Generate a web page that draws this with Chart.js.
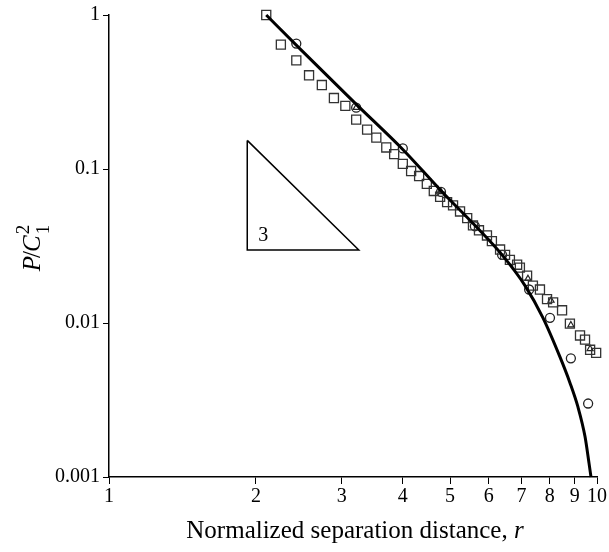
<!DOCTYPE html>
<html>
<head>
<meta charset="utf-8">
<script src="https://cdn.jsdelivr.net/npm/chart.js@4/dist/chart.umd.min.js"></script>
<style>
  html, body { margin: 0; padding: 0; background: #fff; }
  #wrap { width: 609px; height: 552px; }
</style>
</head>
<body>
<div id="wrap"><canvas id="grafico" width="609" height="552"></canvas></div>
<script>
// values (r, P/C1^2)
const squareR = [2.10, 2.25, 2.42, 2.57, 2.73, 2.89, 3.05, 3.21, 3.38, 3.53, 3.70, 3.84, 4.00, 4.16, 4.32, 4.48,
                 4.63, 4.77, 4.93, 5.07, 5.24, 5.42, 5.57, 5.73, 5.95, 6.09, 6.33, 6.48, 6.63, 6.86, 6.95,
                 7.19, 7.39, 7.64, 7.90, 8.13, 8.48, 8.80, 9.23, 9.45, 9.68, 9.96];
const squareP = [1.0, 0.642, 0.507, 0.406, 0.351, 0.289, 0.257, 0.209, 0.180, 0.160, 0.138, 0.125, 0.108, 0.097, 0.090, 0.080,
                 0.072, 0.066, 0.061, 0.058, 0.053, 0.048, 0.043, 0.040, 0.037, 0.034, 0.030, 0.0277, 0.0257, 0.0239, 0.0229,
                 0.0203, 0.0175, 0.0165, 0.0143, 0.0136, 0.0121, 0.0099, 0.0083, 0.0078, 0.0067, 0.0064];

const circleR = [2.42, 3.21, 4.00, 4.79, 5.62, 6.39, 7.26, 8.01, 8.84, 9.59];
const circleP = [0.652, 0.250, 0.136, 0.071, 0.0425, 0.0277, 0.0165, 0.0108, 0.0059, 0.0030];

const triR = [3.21, 4.79, 7.22, 8.05, 8.84, 9.68];
const triP = [0.250, 0.071, 0.0194, 0.0140, 0.0097, 0.0068];

const curveR = [2.10, 2.46, 3.22, 4.00, 4.79, 5.62, 6.39, 7.12, 7.75, 8.40, 8.80, 9.14, 9.45, 9.63, 9.72];
const curveP = [1.0, 0.605, 0.261, 0.134, 0.0723, 0.0431, 0.0277, 0.0175, 0.0108, 0.0060, 0.0041, 0.00285, 0.00183, 0.00123, 0.001];

// slope guide triangle (vertices) and its label
const slopeR = [1.92, 1.92, 3.25, 1.92];
const slopeP = [0.1534, 0.0298, 0.0298, 0.1534];
const slopeLabelR = 2.07;
const slopeLabelP = 0.0385;
const slopeLabel = '3';

const xTicks = [1, 2, 3, 4, 5, 6, 7, 8, 9, 10];
const yTicks = [0.001, 0.01, 0.1, 1];

function puntos(xs, ys) {
    return xs.map((x, i) => ({ x: x, y: ys[i] }));
}

const serif = '"Liberation Serif", "DejaVu Serif", serif';

const titulosPlugin = {
    id: 'titulos',
    afterDraw(chart) {
        const ctx = chart.ctx;
        const xs = chart.scales.x;
        const ys = chart.scales.y;
        ctx.save();
        ctx.fillStyle = '#000';
        ctx.textBaseline = 'alphabetic';

        // slope label
        ctx.font = '20px ' + serif;
        ctx.textAlign = 'center';
        ctx.fillText(slopeLabel, xs.getPixelForValue(slopeLabelR), ys.getPixelForValue(slopeLabelP) + 8);

        // x axis title with italic r
        const parte1 = 'Normalized separation distance, ';
        const parte2 = 'r';
        ctx.font = '25px ' + serif;
        const w1 = ctx.measureText(parte1).width;
        ctx.font = 'italic 25px ' + serif;
        const w2 = ctx.measureText(parte2).width;
        let x0 = 355 - (w1 + w2) / 2;
        ctx.textAlign = 'left';
        ctx.font = '25px ' + serif;
        ctx.fillText(parte1, x0, 538);
        ctx.font = 'italic 25px ' + serif;
        ctx.fillText(parte2, x0 + w1, 538);

        // y axis title P/C_1^2
        ctx.translate(40, 247);
        ctx.rotate(-Math.PI / 2);
        ctx.font = 'italic 25px ' + serif;
        const wP = ctx.measureText('P').width;
        ctx.font = '25px ' + serif;
        const wS = ctx.measureText('/').width;
        ctx.font = 'italic 25px ' + serif;
        const wC = ctx.measureText('C').width;
        ctx.font = '19px ' + serif;
        const wN = ctx.measureText('2').width;
        let cx = -(wP + wS + wC + wN) / 2;
        ctx.font = 'italic 25px ' + serif;
        ctx.fillText('P', cx, 0);
        cx += wP - 2;
        ctx.font = '25px ' + serif;
        ctx.fillText('/', cx, 0);
        cx += wS - 1;
        ctx.font = 'italic 25px ' + serif;
        ctx.fillText('C', cx, 0);
        cx += wC + 1;
        ctx.font = '19px ' + serif;
        ctx.fillText('2', cx, -11);
        ctx.fillText('1', cx, 9);
        ctx.restore();
    }
};

new Chart(document.getElementById('grafico').getContext('2d'), {
    type: 'scatter',
    data: {
        datasets: [
            {
                label: 'curve',
                data: puntos(curveR, curveP),
                showLine: true,
                borderColor: '#000',
                borderWidth: 3,
                pointRadius: 0,
                cubicInterpolationMode: 'monotone',
                fill: false,
                clip: false
            },
            {
                label: 'slope',
                data: puntos(slopeR, slopeP),
                showLine: true,
                borderColor: '#000',
                borderWidth: 1.5,
                pointRadius: 0,
                tension: 0,
                fill: false
            },
            {
                label: 'squares',
                data: puntos(squareR, squareP),
                pointStyle: 'rect',
                pointRadius: 6.4,
                pointBorderWidth: 1.3,
                pointBorderColor: '#333',
                pointBackgroundColor: 'rgba(0,0,0,0)',
                clip: false
            },
            {
                label: 'circles',
                data: puntos(circleR, circleP),
                pointStyle: 'circle',
                pointRadius: 4.5,
                pointBorderWidth: 1.3,
                pointBorderColor: '#222',
                pointBackgroundColor: 'rgba(0,0,0,0)',
                clip: false
            },
            {
                label: 'triangles',
                data: puntos(triR, triP),
                pointStyle: 'triangle',
                pointRadius: 3.5,
                pointBorderWidth: 1.2,
                pointBorderColor: '#222',
                pointBackgroundColor: 'rgba(0,0,0,0)',
                clip: false
            }
        ]
    },
    options: {
        responsive: false,
        animation: false,
        layout: { padding: { top: 9, right: 12, left: 0, bottom: 0 } },
        plugins: {
            legend: { display: false },
            tooltip: { enabled: false }
        },
        scales: {
            x: {
                type: 'logarithmic',
                min: 1,
                max: 10,
                afterBuildTicks: (scale) => { scale.ticks = xTicks.map(v => ({ value: v })); },
                afterFit: (scale) => { scale.height = 75; },
                border: { display: true, color: '#000', width: 1.5 },
                grid: { display: true, drawOnChartArea: false, drawTicks: true, tickLength: 7, tickColor: '#000', tickWidth: 1 },
                ticks: {
                    color: '#000',
                    font: { family: serif, size: 20 },
                    padding: 1,
                    maxRotation: 0,
                    autoSkip: false,
                    callback: (v) => String(v)
                }
            },
            y: {
                type: 'logarithmic',
                min: 0.001,
                max: 1,
                afterBuildTicks: (scale) => { scale.ticks = yTicks.map(v => ({ value: v })); },
                afterFit: (scale) => { scale.width = 109; },
                border: { display: true, color: '#000', width: 1.5 },
                grid: { display: true, drawOnChartArea: false, drawTicks: true, tickLength: 6, tickColor: '#000', tickWidth: 1 },
                ticks: {
                    color: '#000',
                    font: { family: serif, size: 20 },
                    padding: 3,
                    autoSkip: false,
                    callback: (v) => String(v)
                }
            }
        }
    },
    plugins: [titulosPlugin]
});
</script>
</body>
</html>
